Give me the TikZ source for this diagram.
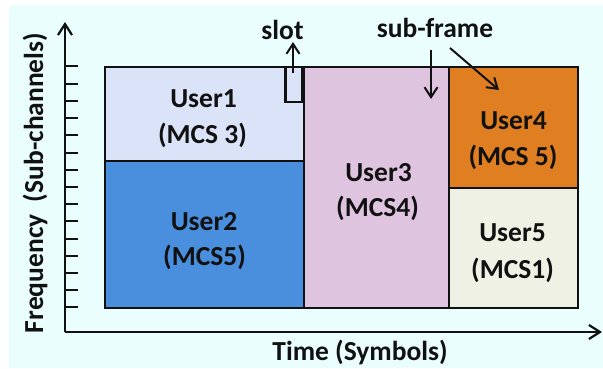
\documentclass[tikz,border=0pt]{standalone}
\usepackage{fontspec}
\setmainfont{Carlito}
\usetikzlibrary{arrows.meta}

\definecolor{bgcyan}{RGB}{235,254,254}
\definecolor{uone}{RGB}{218,227,248}
\definecolor{utwo}{RGB}{74,142,222}
\definecolor{uthree}{RGB}{223,196,224}
\definecolor{ufour}{RGB}{224,127,34}
\definecolor{ufive}{RGB}{238,241,228}
\definecolor{ink}{RGB}{17,17,17}

\newcommand\lblfont{\fontsize{27.5}{33}\selectfont\bfseries}

\tikzset{
  blk/.style={draw=ink, line width=2pt, rectangle, inner sep=0pt, anchor=north west},
  lbl/.style={font=\lblfont, text=ink, anchor=base, inner sep=0pt},
  axis/.style={draw=ink, line width=2.2pt, -{Straight Barb[length=11pt,width=14pt]}},
  pointer/.style={draw=ink, line width=2pt, -{Straight Barb[length=10pt,width=13pt]}},
  tickmark/.style={draw=ink, line width=2pt},
}

\begin{document}
\begin{tikzpicture}[x=1pt,y=-1pt]
  % canvas and backdrop
  \useasboundingbox (0,0) rectangle (603,369);
  \fill[white] (0,0) rectangle (603,369);
  \fill[bgcyan] (9,5) rectangle (603,368);

  % resource blocks of the frame
  \node[blk, fill=uone,   minimum width=199pt, minimum height=94pt]  (r1) at (104,66)  {};
  \node[blk, fill=utwo,   minimum width=199pt, minimum height=147pt] (r2) at (104,160) {};
  \node[blk, fill=uthree, minimum width=145pt, minimum height=241pt] (r3) at (303,66)  {};
  \node[blk, fill=ufour,  minimum width=129pt, minimum height=121pt] (r4) at (448,66)  {};
  \node[blk, fill=ufive,  minimum width=129pt, minimum height=120pt] (r5) at (448,187) {};
  \node[blk, fill=uone, line width=2.5pt, minimum width=17pt, minimum height=35pt] (sl) at (284,66) {};

  % axes
  \coordinate (o)  at (65,332);
  \coordinate (yt) at (65,22);
  \coordinate (xt) at (602,332);
  \draw[axis] (o) -- (yt);
  \draw[axis] (o) -- (xt);
  \foreach \k in {0,...,14}
    \draw[tickmark] (65,66.5+17.2*\k) -- (78,66.5+17.2*\k);

  % block labels
  \node[lbl] (t1a) at (203.5,107.3) {User1};
  \node[lbl] (t1b) at (202.5,143.3) {(MCS 3)};
  \node[lbl] (t2a) at (204,230) {User2};
  \node[lbl] (t2b) at (204.5,265) {(MCS5)};
  \node[lbl] (t3a) at (378.5,181.7) {User3};
  \node[lbl] (t3b) at (377.5,216.7) {(MCS4)};
  \node[lbl] (t4a) at (513.5,129.3) {User4};
  \node[lbl] (t4b) at (513,165) {(MCS 5)};
  \node[lbl] (t5a) at (512.5,241.7) {User5};
  \node[lbl] (t5b) at (512.5,278) {(MCS1)};

  % annotations
  \node[lbl] (slot) at (282.5,40) {slot};
  \node[lbl] (sub)  at (435,38) {sub-frame};
  \coordinate (sla) at (293,73);
  \coordinate (slb) at (293,42);
  \draw[pointer] (sla) -- (slb);
  \coordinate (sfa) at (431,50);
  \coordinate (sfb) at (431,99);
  \draw[pointer] (sfa) -- (sfb);
  \coordinate (sfc) at (450,48);
  \coordinate (sfd) at (499,90);
  \draw[pointer] (sfc) -- (sfd);

  % axis titles
  \node[lbl] (xl) at (360,360) {Time (Symbols)};
  \node[lbl, rotate=90] (yl) at (43,183) {Frequency\ \ (Sub-channels)};
\end{tikzpicture}
\end{document}
